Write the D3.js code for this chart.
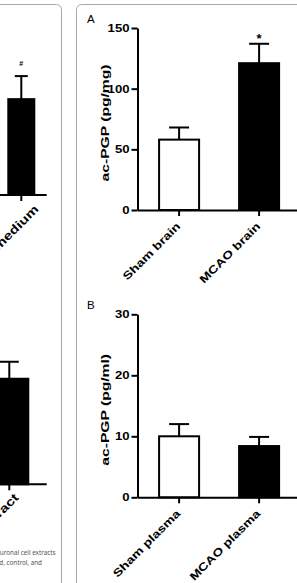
<!DOCTYPE html>
<html><head><meta charset="utf-8">
<script src="https://cdn.jsdelivr.net/npm/d3@7"></script>
<style>
html,body{margin:0;padding:0;background:#fff;overflow:hidden;}
svg{display:block;}
</style></head><body>
<svg id="c" width="297" height="583"></svg>
<script>
// ---------- DATA ----------
// Panel A: ac-PGP in brain (pg/mg)
const brainCategories = ["Sham brain", "MCAO brain"];
const brainMeans = [58, 121];
const brainErrors = [10, 16];
const brainMarks = ["", "*"];
const brainTicks = [0, 50, 100, 150];

// Panel B: ac-PGP in plasma (pg/ml)
const plasmaCategories = ["Sham plasma", "MCAO plasma"];
const plasmaMeans = [10, 8.4];
const plasmaErrors = [2, 1.5];
const plasmaMarks = ["", ""];
const plasmaTicks = [0, 10, 20, 30];

const barFills = ["#ffffff", "#000000"];

// Neighbouring figure, only partly visible at the left edge
const leftTopCategories = ["Conditioned medium"];
const leftTopMeans = [79];
const leftTopErrors = [19];
const leftTopMarks = ["#"];
const leftBottomCategories = ["Neuronal cell extract"];
const leftBottomMeans = [87];
const leftBottomErrors = [14];
const leftBottomMarks = [""];
const captionLines = ["neuronal cell extracts", "ed, control, and"];

// ---------- DRAW ----------
const svg = d3.select("#c");
const FONT = "'Liberation Sans', Arial, Helvetica, sans-serif";

function stretch(sel, f) {
  sel.each(function () {
    const L = this.getComputedTextLength();
    this.setAttribute("textLength", L * f);
    this.setAttribute("lengthAdjust", "spacingAndGlyphs");
  });
}

// panel frames
svg.append("rect").attr("x", -20).attr("y", 4.5).attr("width", 81.5).attr("height", 700)
  .attr("rx", 5).attr("fill", "none").attr("stroke", "#a8a8a8").attr("stroke-width", 1);
svg.append("rect").attr("x", 76.5).attr("y", 4.5).attr("width", 300).attr("height", 700)
  .attr("rx", 5).attr("fill", "none").attr("stroke", "#a8a8a8").attr("stroke-width", 1);

function drawBars(g, x, y, cats, means, errs, marks, markSize, markGap) {
  const bw = x.bandwidth();
  g.selectAll("rect.bar").data(cats).join("rect").attr("class", "bar")
    .attr("x", d => x(d)).attr("width", bw)
    .attr("y", (d, i) => y(means[i])).attr("height", (d, i) => y(0) - y(means[i]))
    .attr("fill", (d, i) => barFills[Math.min(i + (cats.length === 1 ? 1 : 0), 1)])
    .attr("stroke", "#000").attr("stroke-width", 2);
  g.selectAll("line.err").data(cats).join("line").attr("class", "err")
    .attr("x1", d => x(d) + bw / 2).attr("x2", d => x(d) + bw / 2)
    .attr("y1", (d, i) => y(means[i])).attr("y2", (d, i) => y(means[i] + errs[i]))
    .attr("stroke", "#000").attr("stroke-width", 2);
  g.selectAll("line.cap").data(cats).join("line").attr("class", "cap")
    .attr("x1", d => x(d) + bw / 4).attr("x2", d => x(d) + bw * 3 / 4)
    .attr("y1", (d, i) => y(means[i] + errs[i])).attr("y2", (d, i) => y(means[i] + errs[i]))
    .attr("stroke", "#000").attr("stroke-width", 2);
  g.selectAll("text.mark").data(cats).join("text").attr("class", "mark")
    .attr("x", d => x(d) + bw / 2)
    .attr("y", (d, i) => y(means[i] + errs[i]) - markGap)
    .attr("text-anchor", "middle").attr("font-family", FONT).attr("font-weight", "bold")
    .attr("font-size", markSize).text((d, i) => marks[i]);
}

function drawPanel(cfg) {
  const g = svg.append("g");
  const x = d3.scaleBand().domain(cfg.cats).range([137.5, 300.7]).paddingInner(0.5).paddingOuter(0.27);
  const y = d3.scaleLinear().domain([0, cfg.max]).range([cfg.yBottom, cfg.yTop]);
  drawBars(g, x, y, cfg.cats, cfg.means, cfg.errs, cfg.marks, 13, 1);

  const ya = g.append("g").attr("transform", `translate(${x.range()[0]},0)`)
    .call(d3.axisLeft(y).tickValues(cfg.ticks).tickSize(6).tickSizeOuter(0).tickPadding(2));
  ya.select(".domain").attr("stroke-width", 2);
  ya.selectAll(".tick line").attr("stroke-width", 2);
  ya.selectAll("text").attr("font-family", FONT).attr("font-weight", "bold")
    .attr("font-size", 10.5).attr("fill", "#000").call(stretch, 1.25);

  const xa = g.append("g").attr("transform", `translate(0,${y(0)})`)
    .call(d3.axisBottom(x).tickSize(6).tickSizeOuter(0));
  xa.select(".domain").attr("stroke-width", 2);
  xa.selectAll(".tick line").attr("stroke-width", 2);
  xa.selectAll("text").attr("y", 0).attr("dy", 0).attr("x", 0)
    .attr("transform", "translate(2,17) rotate(-45)").attr("text-anchor", "end")
    .attr("font-family", FONT).attr("font-weight", "bold").attr("font-size", 11)
    .attr("fill", "#000").call(stretch, 1.27);

  g.append("text").attr("transform", `translate(108.5,${(cfg.yTop + cfg.yBottom) / 2 + 4}) rotate(-90)`)
    .attr("text-anchor", "middle").attr("font-family", FONT).attr("font-weight", "bold")
    .attr("font-size", 11).text(cfg.title).call(stretch, 1.42);

  g.append("text").attr("x", 87).attr("y", cfg.yTop - 5.5).attr("font-family", FONT)
    .attr("font-size", 11.5).text(cfg.letter);
}

drawPanel({cats: brainCategories, means: brainMeans, errs: brainErrors, marks: brainMarks,
  ticks: brainTicks, max: 150, yBottom: 210, yTop: 28, title: "ac-PGP (pg/mg)", letter: "A"});
drawPanel({cats: plasmaCategories, means: plasmaMeans, errs: plasmaErrors, marks: plasmaMarks,
  ticks: plasmaTicks, max: 30, yBottom: 497.3, yTop: 314.3, title: "ac-PGP (pg/ml)", letter: "B"});

// partly visible left panels
function drawLeft(cfg) {
  const g = svg.append("g");
  const x = d3.scaleBand().domain(cfg.cats).range(cfg.xr).paddingInner(0).paddingOuter(1);
  const y = d3.scaleLinear().domain([0, 150]).range([cfg.yBottom, cfg.yBottom - 182]);
  drawBars(g, x, y, cfg.cats, cfg.means, cfg.errs, cfg.marks, 7, 10);
  g.append("line").attr("x1", -60).attr("x2", 46.7).attr("y1", y(0)).attr("y2", y(0))
    .attr("stroke", "#000").attr("stroke-width", 2);
  const t = g.selectAll("g.t").data(cfg.cats).join("g")
    .attr("transform", d => `translate(${x(d) + x.bandwidth() / 2},${y(0)})`);
  t.append("line").attr("y2", 6).attr("stroke", "#000").attr("stroke-width", 2);
  t.append("text").attr("transform", `translate(${cfg.ldx},${cfg.ldy}) rotate(-45)`)
    .attr("text-anchor", "end").attr("font-family", FONT).attr("font-weight", "bold")
    .attr("font-size", 12).text(d => d).call(stretch, 1.27);
}
drawLeft({cats: leftTopCategories, means: leftTopMeans, errs: leftTopErrors, marks: leftTopMarks,
  xr: [-17.7, 60.3], yBottom: 195, ldx: 18, ldy: 15});
drawLeft({cats: leftBottomCategories, means: leftBottomMeans, errs: leftBottomErrors, marks: leftBottomMarks,
  xr: [-47.7, 66.3], yBottom: 484.3, ldx: 10, ldy: 14});

svg.selectAll("text.cap").data(captionLines).join("text").attr("class", "cap")
  .attr("x", (d, i) => i === 0 ? 55.5 : 42).attr("y", (d, i) => 555 + i * 10)
  .attr("text-anchor", "end").attr("font-family", "'Noto Sans', 'Open Sans', sans-serif")
  .attr("font-size", 6.3).attr("fill", "#555").text(d => d);
</script>
</body></html>
